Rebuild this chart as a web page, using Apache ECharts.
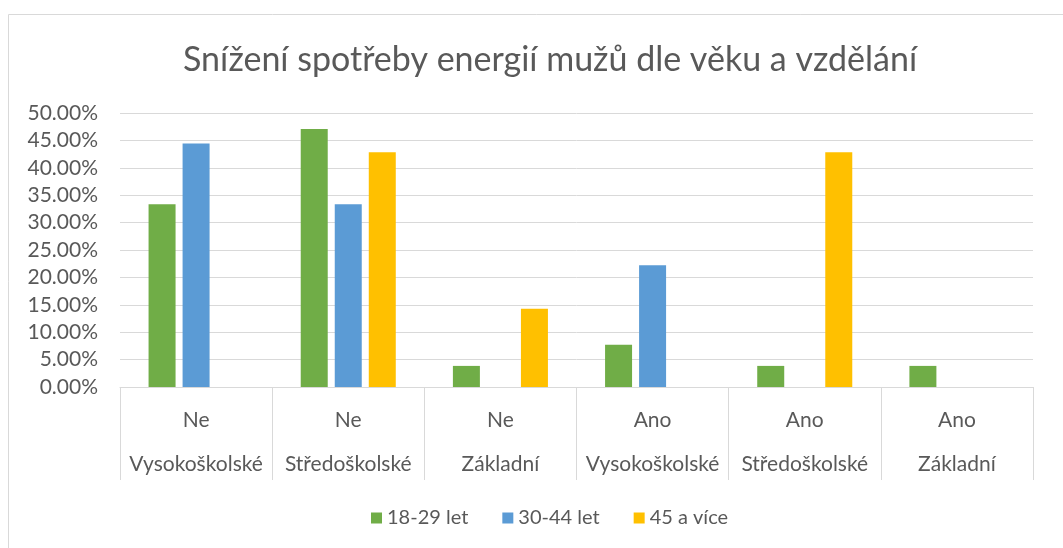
<!DOCTYPE html>
<html>
<head>
<meta charset="utf-8">
<script src="https://cdn.jsdelivr.net/npm/echarts@6/dist/echarts.min.js"></script>
<style>
  html, body { margin: 0; padding: 0; background: #fff; }
  #main { width: 1063px; height: 548px; }
</style>
</head>
<body>
<div id="main"></div>
<script>
// categories: two levels, answer + education
const answers = ['Ne', 'Ne', 'Ne', 'Ano', 'Ano', 'Ano'];
const education = ['Vysokoškolské', 'Středoškolské', 'Základní', 'Vysokoškolské', 'Středoškolské', 'Základní'];

// values in percent
const age18to29 = [33.33, 47.06, 3.85, 7.69, 3.85, 3.85];
const age30to44 = [44.44, 33.33, null, 22.22, null, null];
const age45plus = [null, 42.86, 14.29, null, 42.86, null];

const seriesNames = ['18-29 let', '30-44 let', '45 a více'];
const yTicks = [0, 50, 5]; // min, max, step

const textColor = '#595959';
const gridColor = '#d9d9d9';
const font = 'Lato, "Open Sans", sans-serif';

var myChart = echarts.init(document.getElementById('main'));

const categories = answers.map((a, i) => a + '\n' + education[i]);

function barSeries(name, data, color) {
    return {
        name: name,
        type: 'bar',
        data: data,
        barWidth: 27,
        barGap: '26%',
        itemStyle: { color: color },
        emphasis: { disabled: true }
    };
}

option = {
    animation: false,
    textStyle: { fontFamily: font },
    title: {
        text: 'Snížení spotřeby energií mužů dle věku a vzdělání',
        left: 545,
        textAlign: 'center',
        top: 38,
        textStyle: {
            color: textColor,
            fontSize: 34,
            fontWeight: 'normal',
            fontFamily: font
        }
    },
    legend: {
        bottom: 15,
        left: 366,
        icon: 'rect',
        itemWidth: 11,
        itemHeight: 11,
        itemGap: 34,
        textStyle: { color: textColor, fontSize: 20, fontFamily: font },
        data: seriesNames
    },
    graphic: [{
        type: 'rect',
        shape: { x: 8.5, y: 14.5, width: 1200, height: 700 },
        style: { fill: 'none', stroke: gridColor, lineWidth: 1 },
        silent: true
    }],
    grid: {
        left: 120,
        right: 30,
        top: 113,
        bottom: 161,
        containLabel: false
    },
    xAxis: {
        type: 'category',
        data: categories,
        axisLine: { lineStyle: { color: gridColor } },
        axisTick: { show: true, length: 93, lineStyle: { color: gridColor } },
        axisLabel: {
            color: textColor,
            fontSize: 21,
            lineHeight: 44,
            margin: 11,
            interval: 0,
            fontFamily: font
        }
    },
    yAxis: {
        type: 'value',
        min: yTicks[0],
        max: yTicks[1],
        interval: yTicks[2],
        axisLine: { show: false },
        axisTick: { show: false },
        splitLine: { lineStyle: { color: gridColor, width: 1 } },
        axisLabel: {
            color: textColor,
            fontSize: 21,
            margin: 22,
            fontFamily: font,
            formatter: v => v.toFixed(2) + '%'
        }
    },
    series: [
        barSeries(seriesNames[0], age18to29, '#70AD47'),
        barSeries(seriesNames[1], age30to44, '#5B9BD5'),
        barSeries(seriesNames[2], age45plus, '#FFC000')
    ]
};
option && myChart.setOption(option);
</script>
</body>
</html>
